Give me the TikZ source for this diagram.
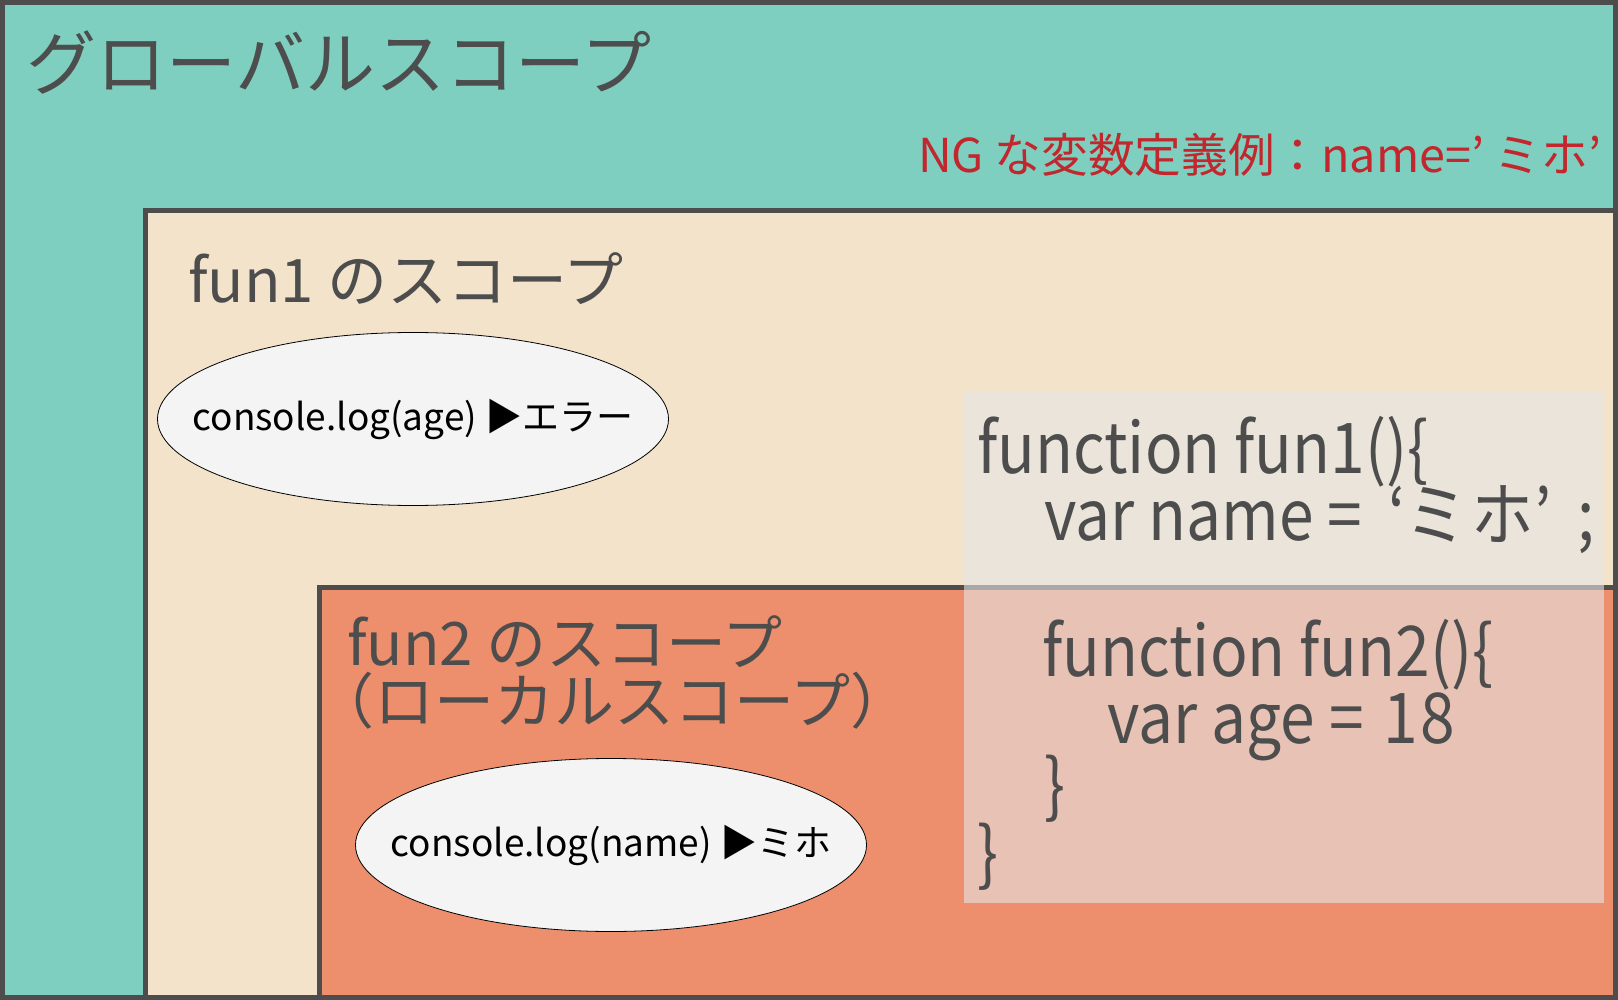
\documentclass[tikz,border=0pt]{standalone}
\usepackage{fontspec}
\usepackage{tikz}
\usetikzlibrary{shapes.geometric}
\setmainfont{Noto Sans CJK JP}
\newfontfamily\codefont[FakeStretch=0.89]{Noto Sans CJK JP}
\definecolor{scglobal}{HTML}{7FCFC0}
\definecolor{scfunone}{HTML}{F3E3CA}
\definecolor{scfuntwo}{HTML}{ED8E6C}
\definecolor{scline}{HTML}{4D4D4D}
\definecolor{sctext}{HTML}{4D4D4D}
\definecolor{scbubble}{HTML}{F4F4F4}
\definecolor{scng}{HTML}{C1272D}
\definecolor{sccode}{HTML}{E6E6E5}

\tikzset{
  scopebox/.style={draw=scline, line width=5pt},
  label/.style={anchor=base west, inner sep=0pt, text=sctext},
  codeline/.style={anchor=base west, inner sep=0pt, text=sctext,
    font=\codefont\fontsize{70}{70}\selectfont},
  bubble/.style={ellipse, draw=black, line width=0.8pt, fill=scbubble,
    minimum width=511pt, minimum height=173pt, inner sep=0pt},
  bubbletext/.style={inner sep=0pt, text=black,
    font=\fontsize{37}{37}\selectfont}
}

\begin{document}
\begin{tikzpicture}[x=1pt, y=-1pt]
  \useasboundingbox (0,0) rectangle (1618,1000);
  % the three scopes
  \draw[scopebox, fill=scglobal] (2.5,2.5) rectangle (1615.5,997.5);
  \draw[scopebox, fill=scfunone] (145.5,210.5) rectangle (1615.5,997.5);
  \draw[scopebox, fill=scfuntwo] (319.5,587.5) rectangle (1615.5,997.5);
  % code panel
  \fill[sccode, opacity=0.6] (964,392) rectangle (1604,903);

  \node[label, font=\fontsize{70}{70}\selectfont] (globaltitle)
    at (26,90) {グローバルスコープ};
  \node[label, text=scng, font=\fontsize{46.7}{47}\selectfont] (ngnote)
    at (918,173) {NG な変数定義例：name=’ ミホ’};
  \node[label, font=\fontsize{60}{60}\selectfont] (funonetitle)
    at (188,303) {fun1 のスコープ};
  \node[label, font=\fontsize{60}{60}\selectfont] (funtwotitle)
    at (347,665) {fun2 のスコープ};
  \node[label, font=\fontsize{60}{60}\selectfont] (localtitle)
    at (314,723) {（ローカルスコープ）};

  \node[bubble] (agelog) at (413,419) {};
  \node[bubbletext] at (agelog.center) (agetext) {console.log(age) ▶エラー};
  \node[bubble] (namelog) at (611,845) {};
  \node[bubbletext] at (namelog.center) (nametext) {console.log(name) ▶ミホ};

  \node[codeline] (codeone) at (977,473) {function fun1()\{};
  \node[codeline] (codetwo) at (1044,540)
    {var name =\hspace{12pt} ‘ミ\hspace{4pt}ホ’ \,;};
  \node[codeline] (codethree) at (1042,676) {function fun2()\{};
  \node[codeline] (codefour) at (1107,743) {var age =\hspace{6pt} 1\hspace{2pt}8};
  \node[codeline] (codefive) at (1044,810) {\}};
  \node[codeline] (codesix) at (977,878) {\}};
\end{tikzpicture}
\end{document}
